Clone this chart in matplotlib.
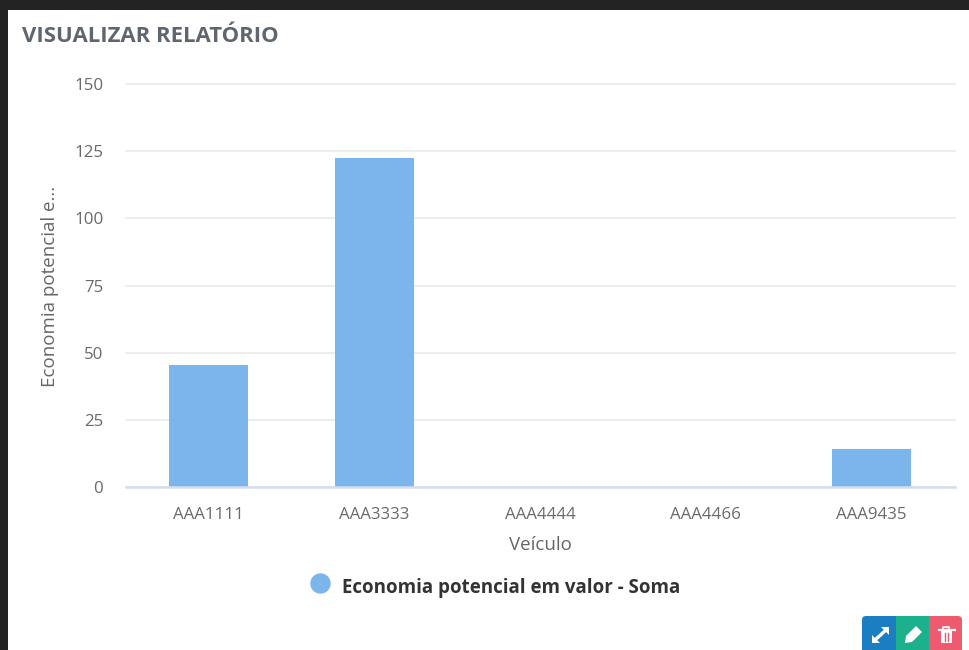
import matplotlib
matplotlib.use("Agg")
from matplotlib import pyplot as plt
from matplotlib.patches import FancyBboxPatch, Rectangle, Polygon

vehicles = ["AAA1111", "AAA3333", "AAA4444", "AAA4466", "AAA9435"]
savings = [45.3, 122.5, 0, 0, 14.1]
y_ticks = [0, 25, 50, 75, 100, 125, 150]

W, H = 969, 650
plt.rcParams['font.family'] = ['Open Sans', 'DejaVu Sans']


def fx(x):
    return x / W


def fy(y):
    return 1 - y / H


fig = plt.figure(figsize=(W / 100, H / 100), dpi=100, facecolor="#232323")

# white panel
fig.add_artist(Rectangle((fx(8), 0), 1 - fx(8), fy(10), transform=fig.transFigure,
                         facecolor="white", edgecolor="none", zorder=-5))
fig.text(fx(22), fy(36), "VISUALIZAR RELATÓRIO", fontsize=15.9, fontweight="bold",
         color="#5f6670", va="center", ha="left")

ax = fig.add_axes([fx(125.5), fy(487), fx(954.5 - 125.5), (487 - 84) / H])
ax.set_facecolor("none")
ax.bar(vehicles, savings, width=0.475, color="#7cb5ec", zorder=3)
ax.set_xlim(-0.5, 4.5)
ax.set_ylim(0, 150)
ax.set_yticks(y_ticks)
ax.grid(axis="y", color="#ececec", linewidth=1.3, zorder=0, clip_on=False)
ax.grid(axis="x", visible=False)
for s in ["top", "left", "right"]:
    ax.spines[s].set_visible(False)
ax.spines["bottom"].set_color("#d8dded")
ax.spines["bottom"].set_linewidth(1.8)
ax.spines["bottom"].set_zorder(4)
ax.tick_params(axis="both", length=0, labelcolor="#6a6a6a", labelsize=12.2)
ax.tick_params(axis="y", pad=16)
ax.tick_params(axis="x", pad=14.5)
for lab in ax.get_yticklabels():
    lab.set_ha("right")

fig.text(fx(540), fy(545), "Veículo", fontsize=13.5, color="#666666", ha="center", va="center")
fig.text(fx(50), fy(286), "Economia potencial e...", fontsize=13.5, color="#666666",
         rotation=90, ha="center", va="center")

# legend
ax_marker = fig.add_axes([0, 0, 1, 1], facecolor="none")
ax_marker.set_axis_off()
ax_marker.set_xlim(0, W)
ax_marker.set_ylim(H, 0)
ax_marker.scatter([320], [583], s=215, color="#7cb5ec", linewidths=0)
ax_marker.text(342, 588, "Economia potencial em valor - Soma", fontsize=13.5,
               fontweight="bold", color="#333333", va="center", ha="left")

# buttons bottom right
ax_marker.add_patch(FancyBboxPatch((862, 616), 40, 40, boxstyle="round,pad=0,rounding_size=4",
                                   facecolor="#1b7ec2", edgecolor="none", zorder=3))
ax_marker.add_patch(FancyBboxPatch((920, 616), 42, 40, boxstyle="round,pad=0,rounding_size=4",
                                   facecolor="#ef5a6f", edgecolor="none", zorder=3))
ax_marker.add_patch(Rectangle((896, 616), 33.5, 40, facecolor="#1cb18c", edgecolor="none", zorder=4))

# expand icon
ax_marker.plot([875, 886], [640, 630], color="white", lw=2.4, zorder=5)
ax_marker.add_patch(Polygon([[881, 627], [889, 627], [889, 635]], facecolor="white",
                            edgecolor="none", zorder=5))
ax_marker.add_patch(Polygon([[872, 635], [872, 643], [880, 643]], facecolor="white",
                            edgecolor="none", zorder=5))
# pencil icon
ax_marker.add_patch(Polygon([[905, 643], [906, 636], [916, 626], [922, 632], [912, 642]],
                            facecolor="white", edgecolor="none", zorder=5))
# trash icon
ax_marker.add_patch(Rectangle((941, 631), 11, 12, facecolor="white", edgecolor="none", zorder=5))
ax_marker.plot([939, 955], [630, 630], color="white", lw=1.6, zorder=5)
ax_marker.plot([943.5, 943.5, 949.5, 949.5], [629, 626.5, 626.5, 629], color="white", lw=1.2, zorder=5)
ax_marker.plot([945, 945], [633, 641], color="#ef5a6f", lw=1, zorder=6)
ax_marker.plot([948, 948], [633, 641], color="#ef5a6f", lw=1, zorder=6)

fig.savefig("out.png", dpi=100, facecolor=fig.get_facecolor())
